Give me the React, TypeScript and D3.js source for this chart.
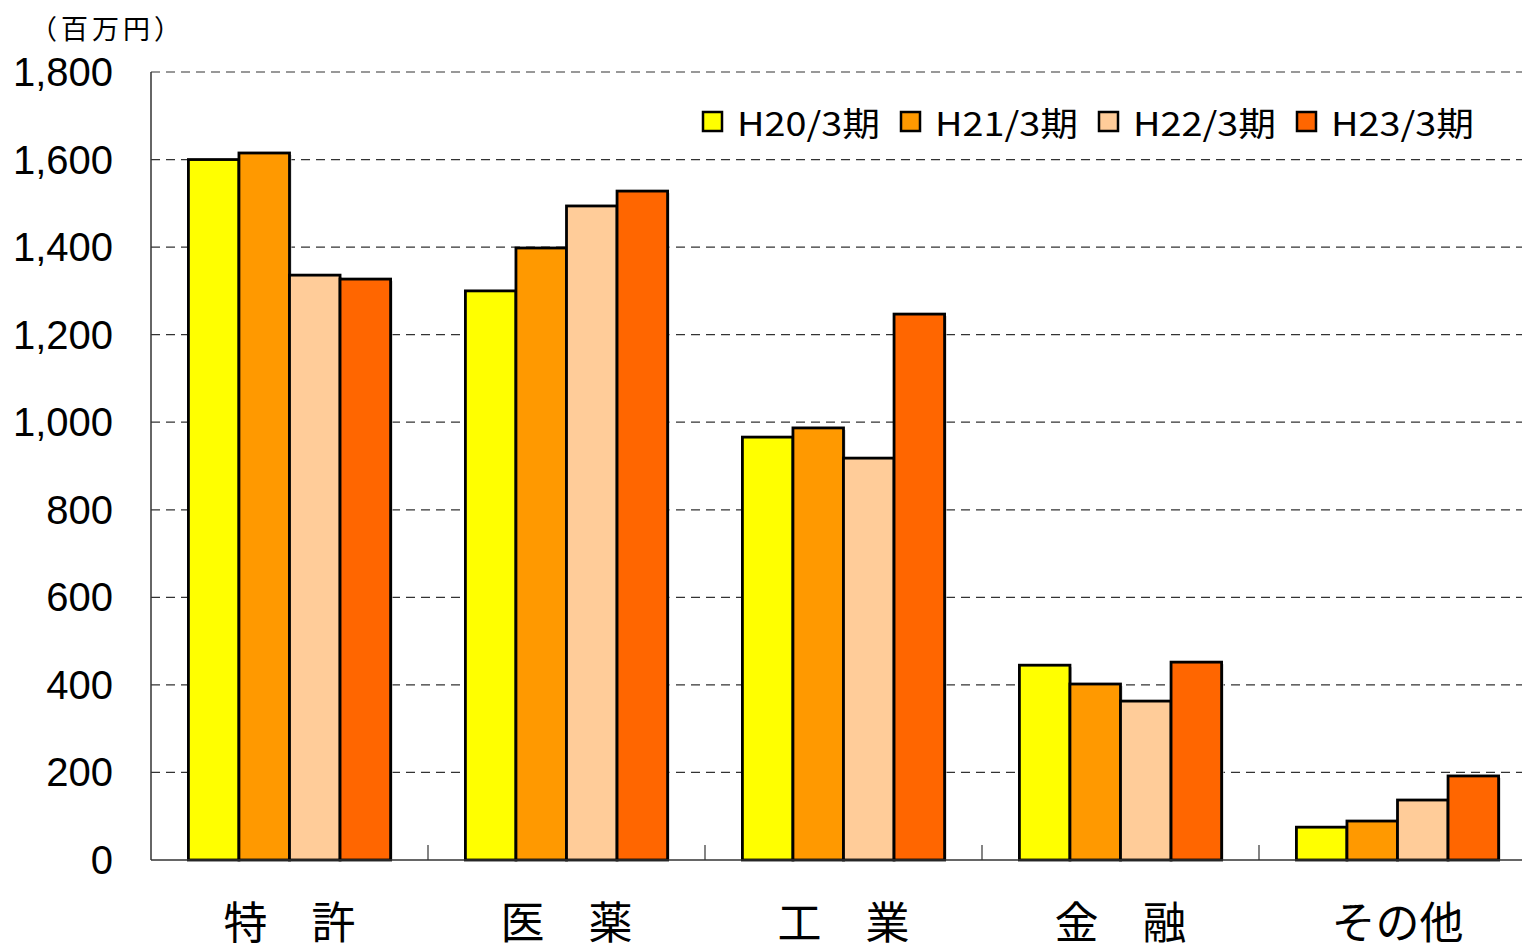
import React from 'react';
import * as d3 from 'd3';

const categories = ['特　許', '医　薬', '工　業', '金　融', 'その他'];
const seriesNames = ['H20/3期', 'H21/3期', 'H22/3期', 'H23/3期'];
const seriesColors = ['#FFFF00', '#FF9900', '#FFCC99', '#FF6600'];
const h20 = [1600, 1300, 966, 445, 75];
const h21 = [1615, 1398, 987, 402, 89];
const h22 = [1336, 1494, 918, 363, 137];
const h23 = [1327, 1528, 1247, 452, 192];
const yTicks = [0, 200, 400, 600, 800, 1000, 1200, 1400, 1600, 1800];

const seriesValues = [h20, h21, h22, h23];

const W = 1522;
const H = 947;
const left = 151;
const right = 1536;
const top = 72;
const bottom = 860;

const App = () => {
  const x = d3.scaleBand<string>().domain(categories).range([left, right]).paddingInner(0).paddingOuter(0);
  const inner = d3.scaleBand<string>().domain(seriesNames).range([0, x.bandwidth()]).paddingOuter(0.74).paddingInner(0);
  const y = d3.scaleLinear().domain([0, 1800]).range([bottom, top]);
  const fmt = d3.format(',');

  return (
    <svg width={W} height={H} style={{ position: 'absolute', left: 0, top: 0, background: '#fff' }}>
      <text x={30} y={27} fontFamily="Noto Sans CJK JP" fontSize={27} dominantBaseline="central"
        letterSpacing={4}>（百万円）</text>

      {yTicks.filter(t => t > 0).map(t => (
        <line key={t} x1={left} x2={W} y1={y(t)} y2={y(t)} stroke="#333" strokeWidth={1.2} strokeDasharray="9,6" />
      ))}

      {yTicks.map(t => (
        <text key={'l' + t} x={113} y={y(t)} textAnchor="end" dominantBaseline="central"
          fontFamily="Liberation Sans, Arial" fontSize={40} fill="#000">{fmt(t)}</text>
      ))}

      {categories.map((c, ci) => (
        <g key={c}>
          {seriesNames.map((s, si) => {
            const v = seriesValues[si][ci];
            const bx = (x(c) as number) + (inner(s) as number);
            const bw = inner.bandwidth();
            return (
              <g key={s}>
                <rect x={bx + 2} y={y(v) + 2} width={bw} height={bottom - y(v) - 2} fill="#c8c8c8" />
                <rect x={bx} y={y(v)} width={bw} height={bottom - y(v)} fill={seriesColors[si]} stroke="#000" strokeWidth={2.8} />
              </g>
            );
          })}
        </g>
      ))}

      <line x1={left} x2={left} y1={top} y2={bottom} stroke="#333" strokeWidth={1.5} />
      <line x1={left} x2={W} y1={bottom} y2={bottom} stroke="#333" strokeWidth={1.5} />
      {categories.slice(1).map(c => (
        <line key={'t' + c} x1={x(c)} x2={x(c)} y1={bottom - 15} y2={bottom} stroke="#333" strokeWidth={1.2} />
      ))}

      {categories.map(c => (
        <text key={'c' + c} x={(x(c) as number) + x.bandwidth() / 2} y={920} textAnchor="middle" dominantBaseline="central"
          fontFamily="Noto Sans CJK JP" fontSize={44} fill="#000">{c}</text>
      ))}

      {seriesNames.map((s, i) => {
        const lx = 703 + i * 198;
        return (
          <g key={'lg' + s}>
            <rect x={lx} y={112} width={19} height={19} fill={seriesColors[i]} stroke="#000" strokeWidth={2.5} />
            <text x={lx + 34} y={122} dominantBaseline="central" fontFamily="Noto Sans CJK JP" fontSize={33}
              textLength={143} lengthAdjust="spacingAndGlyphs">{s}</text>
          </g>
        );
      })}
    </svg>
  );
};

export default App;
